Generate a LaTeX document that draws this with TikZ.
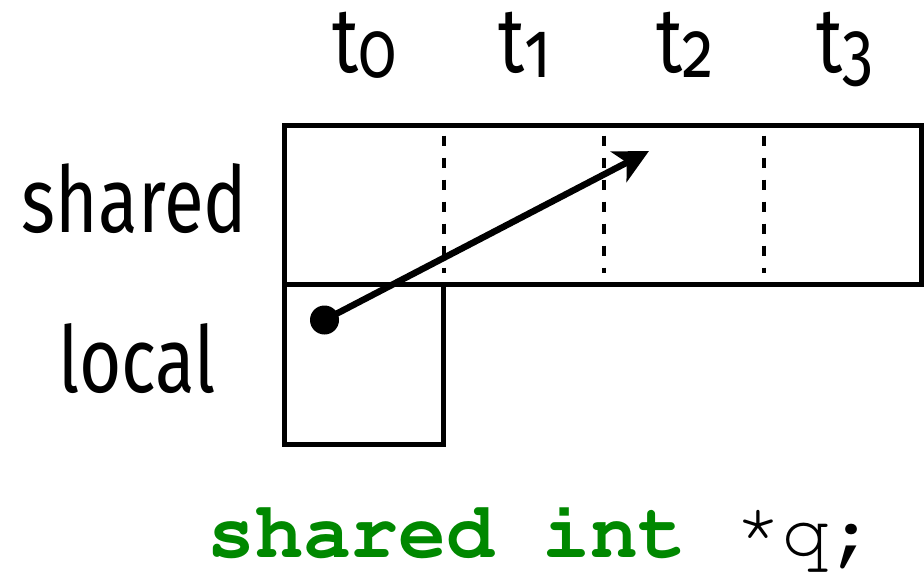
\documentclass[tikz,border=0pt]{standalone}
\usepackage[T1]{fontenc}
\usepackage{fontspec}
\setmainfont{Fira Sans}[FakeStretch=0.79,Numbers=OldStyle]
\setmonofont{Liberation Mono}
\usetikzlibrary{arrows.meta}
\definecolor{codegreen}{RGB}{0,136,0}
\newcommand{\tsub}[1]{\raisebox{-5pt}{\fontsize{80}{80}\selectfont #1}}
\newcommand{\codefont}{\fontencoding{T1}\fontfamily{pcr}\fontsize{79.8}{82}\selectfont}
\tikzset{
  box/.style={draw,line width=5pt},
  sep/.style={line width=4pt,dash pattern=on 10pt off 12pt},
  lbl/.style={font=\fontsize{92}{100}\selectfont,inner sep=0pt},
  ptr/.style={line width=6.5pt,-{Stealth[length=34pt,width=34pt,inset=9pt]}}
}
\begin{document}
\begin{tikzpicture}[x=1pt,y=-1pt]
\useasboundingbox (0,0) rectangle (924,578);
% boxes
\draw[box] (284.5,125) rectangle (921,284.5);
\draw[box] (284.5,284.5) rectangle (443.5,444);
\node[inner sep=0pt] (s1) at (443.5,135) {};
\node[inner sep=0pt] (e1) at (443.5,274) {};
\node[inner sep=0pt] (s2) at (603.5,135) {};
\node[inner sep=0pt] (e2) at (603.5,274) {};
\node[inner sep=0pt] (s3) at (763.5,135) {};
\node[inner sep=0pt] (e3) at (763.5,274) {};
\draw[sep] (s1) -- (e1);
\draw[sep] (s2) -- (e2);
\draw[sep] (s3) -- (e3);
% labels
\node[lbl,anchor=base] (t0) at (365,73) {t\tsub{0}};
\node[lbl,anchor=base] (t1) at (525,73) {t\tsub{1}};
\node[lbl,anchor=base] (t2) at (685,73) {t\tsub{2}};
\node[lbl,anchor=base] (t3) at (845,73) {t\tsub{3}};
\node[lbl,anchor=base] (sh) at (134.5,232) {shared};
\node[lbl,anchor=base] (lo) at (137,392) {local};
% pointer
\node[circle,fill,inner sep=0pt,minimum size=29pt] (dot) at (324.5,320) {};
\coordinate (tip) at (649,151);
\draw[ptr] (dot.center) -- (tip);
% code
\node[anchor=base,inner sep=0pt,font=\codefont] (code) at (542.5,557) {\textcolor{codegreen}{\bfseries shared int} \raisebox{12pt}{*}q;};
\end{tikzpicture}
\end{document}
